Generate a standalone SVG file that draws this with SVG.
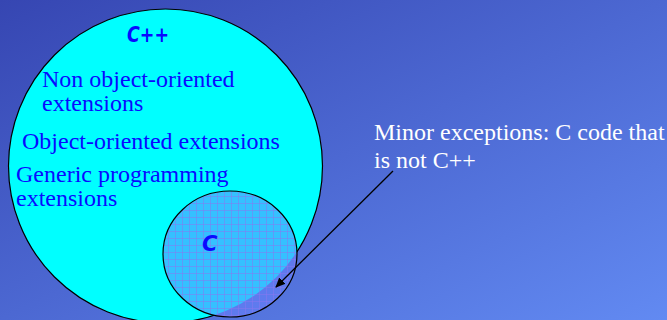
<svg xmlns="http://www.w3.org/2000/svg" width="667" height="320" viewBox="0 0 667 320">
  <defs>
    <linearGradient id="bg" x1="0" y1="0" x2="1" y2="1">
      <stop offset="0" stop-color="#3646b2"/>
      <stop offset="1" stop-color="#628af2"/>
    </linearGradient>
    <pattern id="grid" x="0" y="0" width="7" height="7" patternUnits="userSpaceOnUse">
      <rect width="7" height="7" fill="#6a82ff" fill-opacity="0.5"/>
      <path d="M0 0.5H7M0.5 0V7" stroke="#8a78f0" stroke-opacity="0.5" stroke-width="1" fill="none"/>
    </pattern>
    <clipPath id="outsideSmall">
      <path d="M0 0H667V320H0Z M163 254a67 63 0 1 0 134 0a67 63 0 1 0 -134 0Z" clip-rule="evenodd"/>
    </clipPath>
    <marker id="arrow" markerWidth="10" markerHeight="10" refX="9" refY="5" orient="auto" markerUnits="userSpaceOnUse">
      <path d="M0 0.5L10 5L0 9.5Z" fill="#000"/>
    </marker>
    <style>
      .serif { font-family: "Liberation Serif", "Times New Roman", serif; font-size: 24px; }
      .blue { fill: #0a0aff; }
      .white { fill: #ffffff; }
      .comic { font-family: "DejaVu Sans", sans-serif; font-weight: bold; font-style: oblique; fill: #0a0aff; }
    </style>
  </defs>

  <rect width="667" height="320" fill="url(#bg)"/>

  <g id="cpp">
    <circle cx="165.5" cy="166" r="157" fill="#00ffff"/>
    <circle cx="165.5" cy="166" r="157" fill="none" stroke="#000" stroke-width="1.2" clip-path="url(#outsideSmall)"/>
    <text class="comic" x="127" y="42" font-size="21" textLength="42" lengthAdjust="spacingAndGlyphs">C++</text>
    <text class="serif blue" x="42" y="87">Non object-oriented</text>
    <text class="serif blue" x="42" y="111">extensions</text>
    <text class="serif blue" x="22" y="149">Object-oriented extensions</text>
    <text class="serif blue" x="16" y="182">Generic programming</text>
    <text class="serif blue" x="16" y="206">extensions</text>
  </g>

  <g id="c">
    <ellipse cx="230" cy="254" rx="67" ry="63" fill="url(#grid)" stroke="#000" stroke-width="1.2"/>
    <text class="comic" x="202" y="251" font-size="21">C</text>
  </g>

  <g id="note">
    <text class="serif white" x="374" y="140">Minor exceptions: C code that</text>
    <text class="serif white" x="374" y="168">is not C++</text>
  </g>

  <g id="connectors">
    <line x1="393" y1="171" x2="276" y2="287" stroke="#000" stroke-width="1.3" marker-end="url(#arrow)"/>
  </g>
</svg>
